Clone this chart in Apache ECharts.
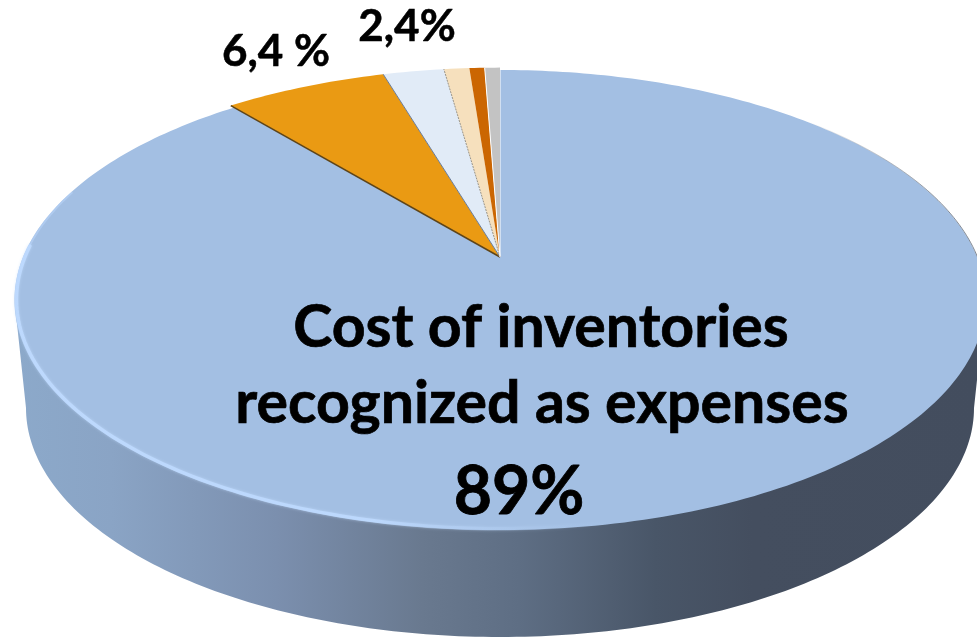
<!DOCTYPE html>
<html>
<head>
<meta charset="utf-8">
<style>html,body{margin:0;padding:0;background:#fff}#chart{width:977px;height:638px}</style>
<script src="https://cdn.jsdelivr.net/npm/echarts@6/dist/echarts.min.js"></script>
</head>
<body>
<div id="chart"></div>
<script>
// Expense shares, clockwise from twelve o'clock
const sliceNames = ['Cost of inventories recognized as expenses', 'Second item', 'Third item', 'Fourth item', 'Fifth item', 'Sixth item'];
const sliceValues = [89, 6.4, 2.4, 1, 0.6, 0.6];
const headingLines = ['Cost of inventories', 'recognized as expenses'];

const sliceColors = ['#a3bfe3', '#ea9a13', '#e1ebf7', '#f6e0bd', '#cb6602', '#c3c3c3'];
const edgeColors = ['#ffffff', '#5e4418', '#6a7b96', '#98948a', null, '#ffffff'];

// Tilted disc: a circle seen in perspective, with its hub above the middle of the ellipse
const disc = { cx: 500, cy: 257, a: 477, b: 222, k: 0.187 };
const base = { cx: 500, cy: 408, a: 474, b: 229 };

function project(turn, r) {
  const t = turn * 2 * Math.PI;
  const u = Math.sin(t) * r, v = Math.cos(t) * r;
  const w = 1 + disc.k * v;
  return [disc.cx + disc.a * u / w, disc.cy - disc.b * v / w];
}

function arc(from, to, r) {
  const pts = [];
  const n = Math.max(2, Math.ceil(Math.abs(to - from) * 360));
  for (let i = 0; i <= n; i++) pts.push(project(from + (to - from) * i / n, r));
  return pts;
}

let running = 0;
const sliceData = sliceValues.map((v, i) => {
  const row = { name: sliceNames[i], value: [v, running] };
  running += v;
  return row;
});
const total = running;

function renderSlice(params, api) {
  const i = params.dataIndex;
  const start = api.value(1) / total, end = start + api.value(0) / total;
  const r = i === 0 ? 1 : 1.015;
  const hub = [disc.cx, disc.cy];
  const children = [{
    type: 'polygon',
    shape: { points: [hub].concat(arc(start, end, r)) },
    style: { fill: sliceColors[i] }
  }];
  if (edgeColors[i]) {
    children.push({
      type: 'polyline',
      shape: { points: [hub, project(start, r)] },
      style: { fill: null, stroke: edgeColors[i], lineWidth: i === 1 ? 1.5 : 1, lineDash: i === 3 ? [2, 1] : null }
    });
  }
  return { type: 'group', children };
}

// Side wall of the disc, shaded from left to right
function renderWall() {
  const pts = [];
  for (let d = 180; d >= 0; d -= 1) {
    const t = d * Math.PI / 180;
    pts.push([base.cx + base.a * Math.cos(t), base.cy + base.b * Math.sin(t)]);
  }
  pts.push([985, 305], [15, 305]);
  return {
    type: 'polygon',
    shape: { points: pts },
    style: {
      fill: {
        type: 'linear', x: 0, y: 0, x2: 1, y2: 0,
        colorStops: [
          { offset: 0, color: '#8ca9ca' },
          { offset: 0.1, color: '#8aa4c5' },
          { offset: 0.27, color: '#7b8fae' },
          { offset: 0.42, color: '#69798f' },
          { offset: 0.52, color: '#5e6e84' },
          { offset: 0.66, color: '#495668' },
          { offset: 0.76, color: '#444e5f' },
          { offset: 1, color: '#434d5e' }
        ]
      }
    }
  };
}

// Bevel highlights along the rim of the top face
function renderRim() {
  return {
    type: 'group',
    children: [{
      type: 'polyline',
      shape: { points: arc(0.8, 0.755, 0.997) },
      style: { fill: null, lineWidth: 2, stroke: 'rgba(190,218,255,0.45)' }
    }, {
      type: 'polyline',
      shape: { points: arc(0.758, 0.47, 0.996) },
      style: {
        fill: null, lineWidth: 3.5, lineCap: 'round', shadowBlur: 3, shadowColor: 'rgba(196,222,255,0.7)',
        stroke: {
          type: 'linear', x: 0, y: 0, x2: 1, y2: 0,
          colorStops: [
            { offset: 0, color: 'rgba(190,218,255,0.9)' },
            { offset: 0.6, color: 'rgba(190,218,255,0.85)' },
            { offset: 1, color: 'rgba(163,191,227,0)' }
          ]
        }
      }
    }, {
      type: 'polyline',
      shape: { points: arc(0.13, 0.3, 1.001) },
      style: {
        fill: null, lineWidth: 1,
        stroke: {
          type: 'linear', x: 0, y: 0, x2: 1, y2: 0,
          colorStops: [
            { offset: 0, color: 'rgba(70,80,95,0)' },
            { offset: 0.7, color: 'rgba(70,80,95,0.6)' },
            { offset: 1, color: 'rgba(70,80,95,0.7)' }
          ]
        }
      }
    }]
  };
}

const font = 'Lato, Carlito, sans-serif';
// Places a bold label by its baseline; zrender anchors text at the top of the line box
function textEl(text, x, baseline, size) {
  return {
    type: 'text', z: 20, silent: true, x, y: baseline - size * 0.81,
    style: { text, x: 0, y: 0, fill: '#000', stroke: '#000', lineWidth: size * 0.012, font: `bold ${size}px ${font}`, align: 'center', verticalAlign: 'top' }
  };
}
const percent = (v, gap) => String(v).replace('.', ',') + gap + '%';

const option = {
  animation: false,
  backgroundColor: '#ffffff',
  series: [
    { type: 'custom', coordinateSystem: 'none', z: 1, silent: true, data: [[1]], renderItem: renderWall },
    { type: 'custom', coordinateSystem: 'none', z: 2, silent: true, data: sliceData, renderItem: renderSlice,
      encode: { value: 0 } },
    { type: 'custom', coordinateSystem: 'none', z: 3, silent: true, data: [[1]], renderItem: renderRim }
  ],
  graphic: {
    elements: [
      textEl(headingLines[0], 541, 346, 59),
      textEl(headingLines[1], 542, 422, 59),
      textEl(percent(sliceValues[0], ''), 519, 513, 66),
      textEl(percent(sliceValues[1], ' '), 276, 65, 44),
      textEl(percent(sliceValues[2], ''), 407, 40, 44)
    ]
  }
};

echarts.init(document.getElementById('chart'), null, { renderer: 'canvas' }).setOption(option);
</script>
</body>
</html>
